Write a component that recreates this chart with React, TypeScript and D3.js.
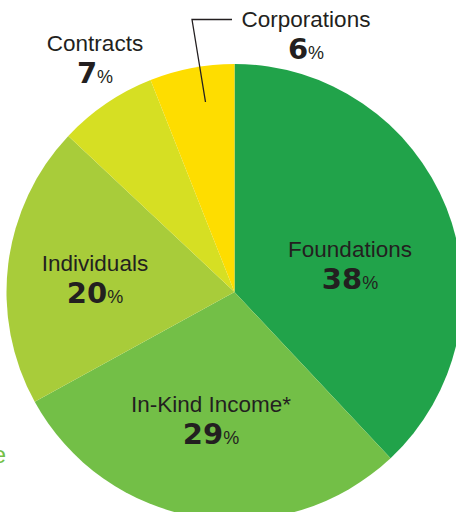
import React from "react";
import * as d3 from "d3";

const categories = ["Foundations", "In-Kind Income*", "Individuals", "Contracts", "Corporations"];
const values = [38, 29, 20, 7, 6];
const colors = ["#21a34a", "#73bf47", "#a8cc3a", "#d6df23", "#fedd00"];

const W = 456, H = 512;
const cx = 234.5, cy = 292, R = 228;

// label anchor positions (label baseline, relative to page)
const labelPos: Record<string, [number, number]> = {
  "Foundations": [350, 257],
  "In-Kind Income*": [211, 412],
  "Individuals": [95, 271],
  "Contracts": [95, 51],
  "Corporations": [306, 27],
};

export default function App() {
  const pie = d3.pie<number>().sort(null).value((d) => d)(values);
  const arc = d3.arc<d3.PieArcDatum<number>>().innerRadius(0).outerRadius(R);
  const font = "'Liberation Sans', Arial, sans-serif";
  return (
    <svg width={W} height={H} style={{ position: "absolute", left: 0, top: 0, background: "#fff" }}>
      <g transform={`translate(${cx},${cy})`}>
        {pie.map((p, i) => (
          <path key={i} d={arc(p) as string} fill={colors[i]} />
        ))}
      </g>
      <polyline points="232,19.5 192,19.5 205.5,102" fill="none" stroke="#231f20" strokeWidth={1.3} />
      {categories.map((c, i) => {
        const [x, y] = labelPos[c];
        return (
          <g key={c} fill="#231f20" textAnchor="middle">
            <text x={x} y={y} fontSize={22.5} fontFamily={font}>{c}</text>
            <text x={x} y={y + 32}>
              <tspan fontSize={29} fontWeight="bold" fontFamily="'DejaVu Sans', sans-serif">{values[i]}</tspan>
              <tspan fontSize={18} fontFamily={font}>%</tspan>
            </text>
          </g>
        );
      })}
      <text x={6} y={463} fontFamily={font} fontSize={24} fill="#73bf47" textAnchor="end">e</text>
    </svg>
  );
}
